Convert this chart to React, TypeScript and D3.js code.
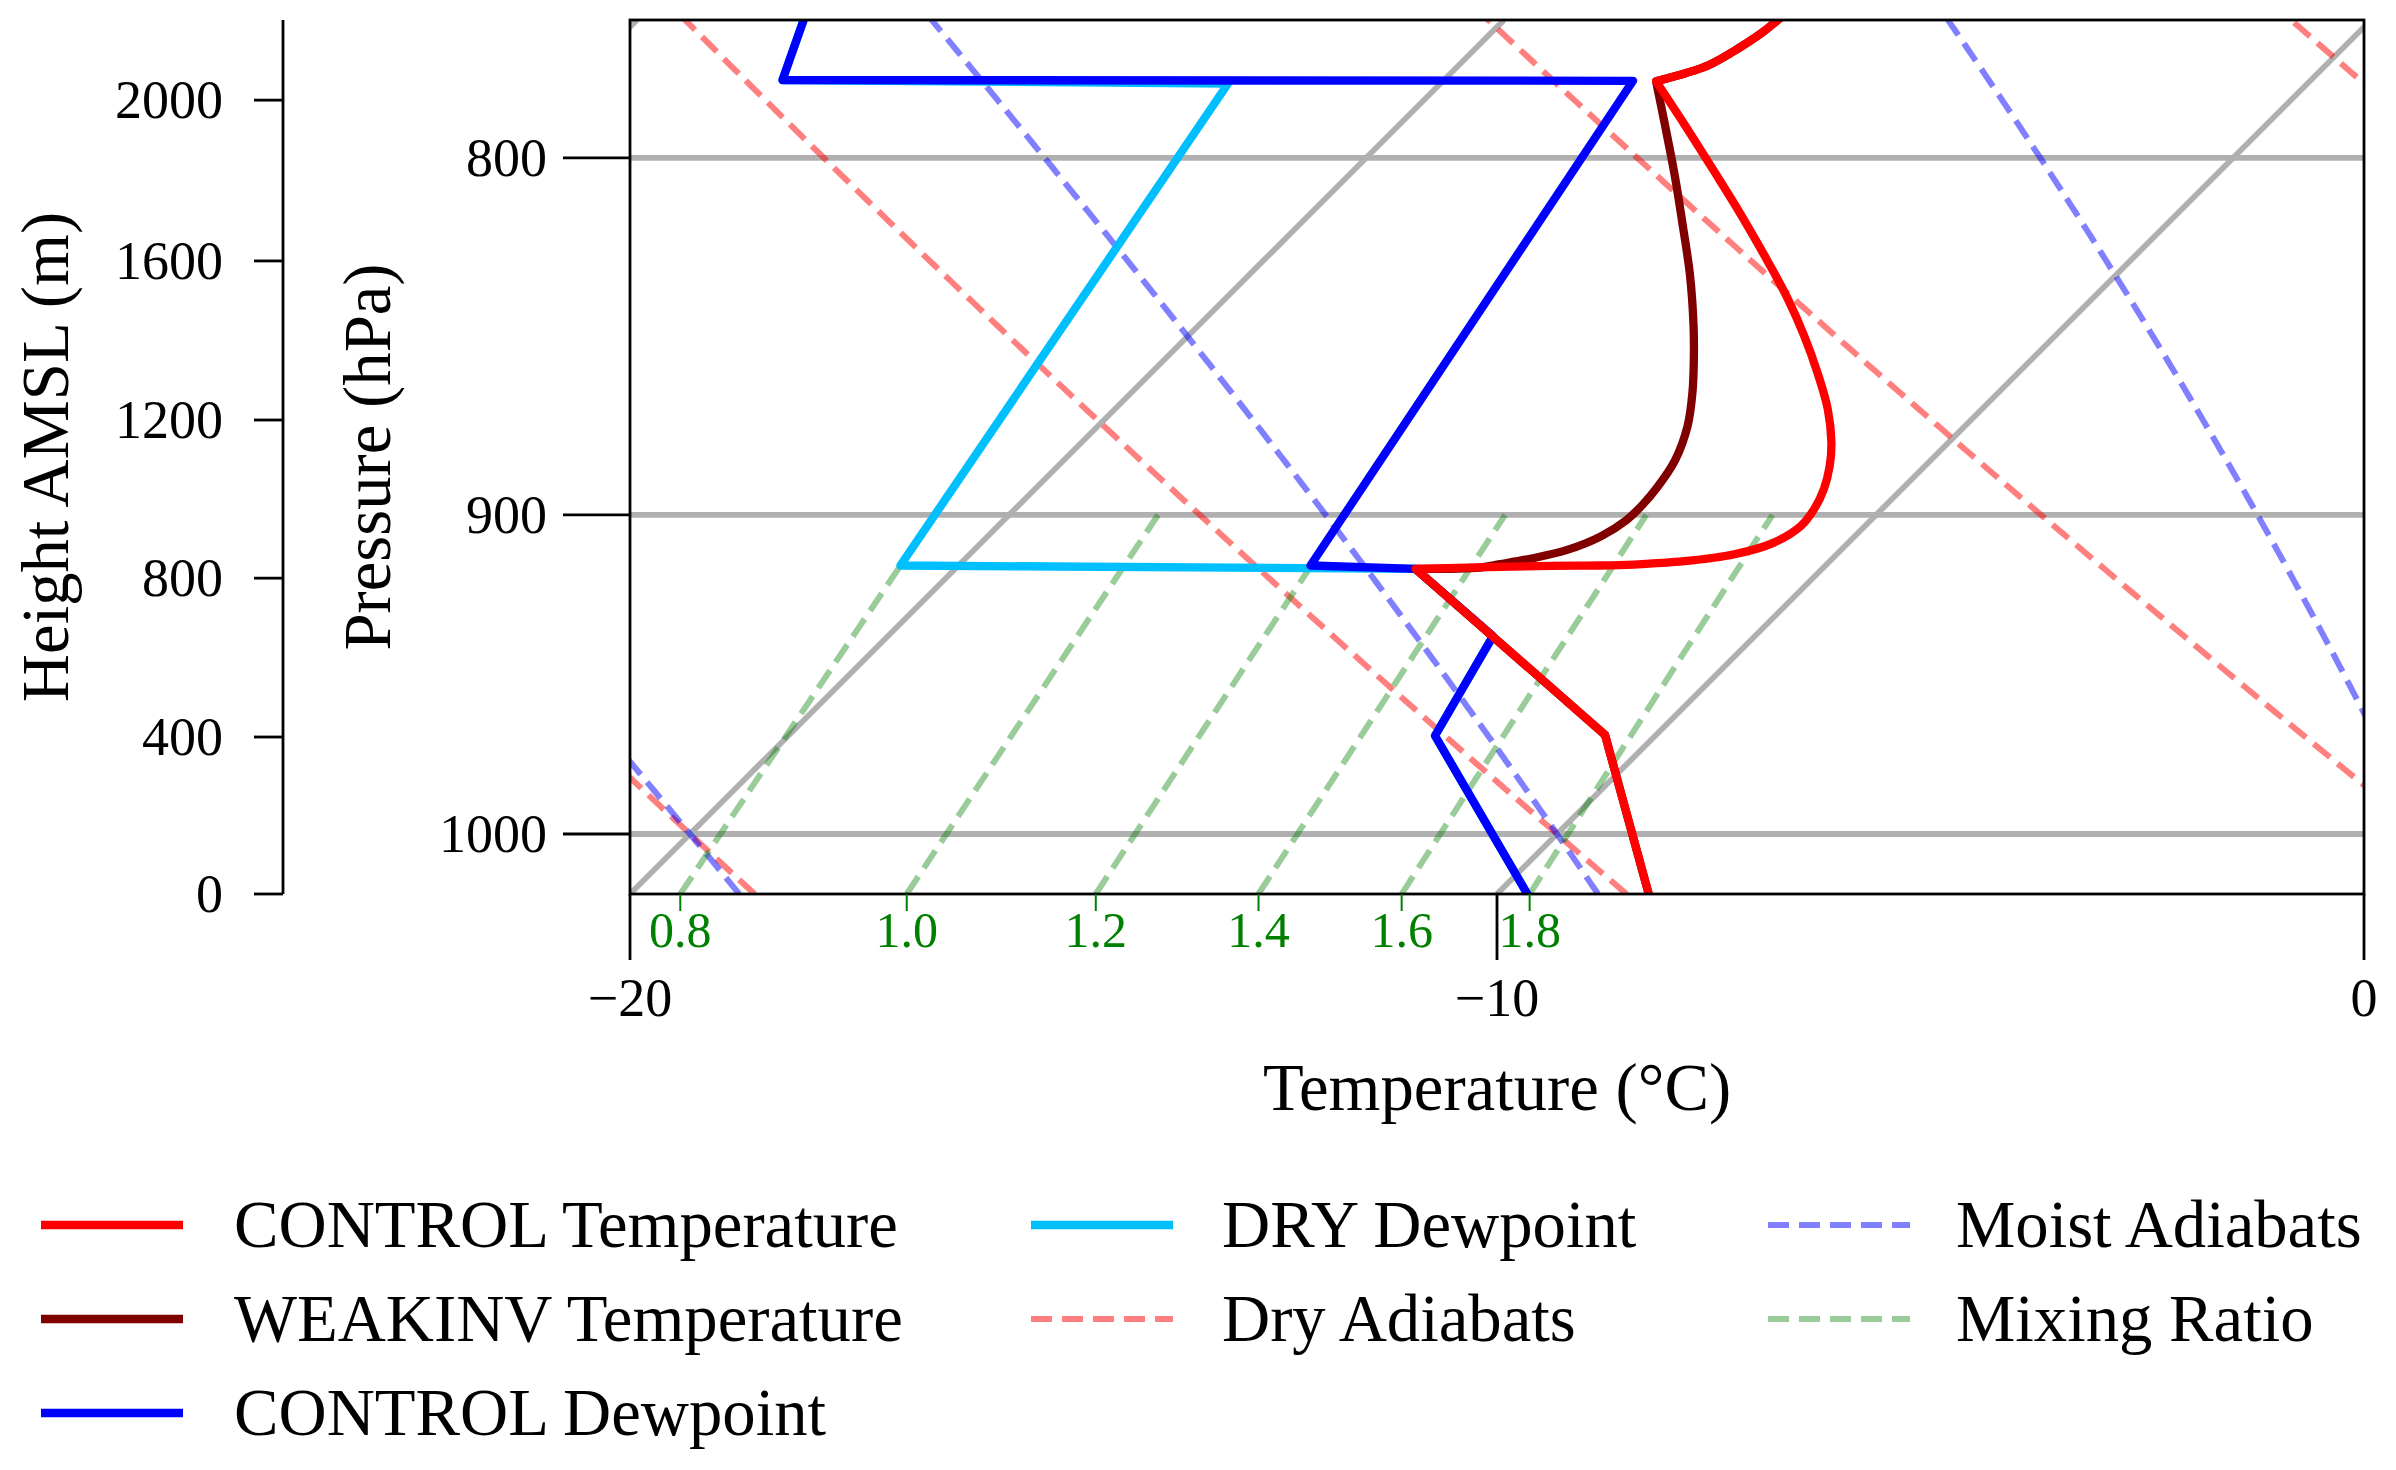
import React from 'react';
import * as d3 from 'd3';

// ---------------- axis limits & ticks ----------------
const T_MIN = -20;
const T_MAX = 0;
const P_BOTTOM = 1020;
const P_TOP = 764.4;

const temperatureTicks = [-20, -10, 0];
const pressureTicks = [800, 900, 1000];
const heightTicks = [0, 400, 800, 1200, 1600, 2000];
const isotherms = [-40, -30, -20, -10, 0, 10];
const dryAdiabatT0 = [-40, -30, -20, -10, 0, 10, 20, 30];
const moistAdiabatT0 = [-20, -10, 0];
const mixingRatios = [0.8, 1.0, 1.2, 1.4, 1.6, 1.8]; // g/kg
const mixingTopPressure = 900;

// ---------------- soundings (hPa, °C) ----------------
const controlTempP = [1020, 967.8, 916.2, 915.3, 915.2, 914.9, 913.9, 911.8, 908.3, 903.3, 898.4, 892.4, 885.6, 878.8, 869.1, 858.7, 848.3, 838.1, 828.0, 815.3, 803.7, 791.4, 780.0, 778.0, 775.9, 771.6, 767.8, 764.2, 762.0];
const controlTempT = [-8.25, -10.59, -14.69, -13.17, -12.60, -12.22, -11.68, -11.18, -10.86, -10.74, -10.78, -10.90, -11.10, -11.35, -11.78, -12.32, -12.90, -13.51, -14.16, -15.01, -15.82, -16.70, -17.54, -17.30, -17.12, -16.97, -16.88, -16.84, -16.83];

const weakinvTempP = [1020, 967.8, 916.2, 915.8, 914.8, 913.0, 910.5, 906.5, 901.6, 897.1, 892.1, 883.9, 874.0, 864.4, 854.9, 845.5, 831.6, 818.0, 804.6, 791.4, 780.0, 778.0, 775.9, 771.6, 767.8, 764.2, 762.0];
const weakinvTempT = [-8.25, -10.59, -14.69, -13.96, -13.77, -13.46, -13.16, -12.93, -12.82, -12.81, -12.84, -12.95, -13.20, -13.53, -13.90, -14.29, -14.91, -15.57, -16.24, -16.93, -17.54, -17.30, -17.12, -16.97, -16.88, -16.84, -16.83];

const temperatureKinks = [967.8, 916.2, 780.0];

const controlDewP = [1020, 968.1, 936.8, 916.2, 915.2, 779.9, 779.7, 764.0, 762.0];
const controlDewT = [-9.65, -12.54, -13.02, -14.69, -15.94, -17.81, -27.63, -28.09, -28.15];

const dryDewP = [1020, 968.1, 936.8, 916.2, 915.2, 780.6, 779.7, 764.0, 762.0];
const dryDewT = [-9.65, -12.54, -13.02, -14.69, -20.67, -22.45, -27.63, -28.09, -28.15];

const legendLabels = [
  'CONTROL Temperature',
  'WEAKINV Temperature',
  'CONTROL Dewpoint',
  'DRY Dewpoint',
  'Dry Adiabats',
  'Moist Adiabats',
  'Mixing Ratio',
];

// ---------------- physics ----------------
const RD = 287.04749;
const CP = 1004.6662;
const LV = 2.50084e6;
const EPS = 0.6219569;
const G = 9.80665;
const KAPPA = RD / CP;

function moistDTdp(p: number, TK: number) {
  const Tc = TK - 273.15;
  const es = 6.112 * Math.exp((17.67 * Tc) / (Tc + 243.5));
  const rs = (EPS * es) / (p - es);
  const num = RD * TK + LV * rs;
  const den = CP + (LV * LV * rs * EPS) / (RD * TK * TK);
  return num / den / p;
}
function rk4(p: number, T: number, h: number) {
  const k1 = moistDTdp(p, T);
  const k2 = moistDTdp(p + h / 2, T + (h / 2) * k1);
  const k3 = moistDTdp(p + h / 2, T + (h / 2) * k2);
  const k4 = moistDTdp(p + h, T + h * k3);
  return T + (h / 6) * (k1 + 2 * k2 + 2 * k3 + k4);
}
function moistAdiabat(t0: number): [number, number][] {
  const down: [number, number][] = [];
  let p = 1000;
  let T = t0 + 273.15;
  down.push([p, T]);
  while (p < P_BOTTOM - 1e-9) {
    const h = Math.min(1, P_BOTTOM - p);
    T = rk4(p, T, h);
    p += h;
    down.push([p, T]);
  }
  const up: [number, number][] = [];
  p = 1000;
  T = t0 + 273.15;
  while (p > P_TOP - 12) {
    T = rk4(p, T, -1);
    p -= 1;
    up.push([p, T]);
  }
  return [...down.reverse(), ...up].map(([pp, tk]) => [pp, tk - 273.15]);
}
function mixingDewpoint(p: number, wgkg: number) {
  const w = wgkg / 1000;
  const e = (p * w) / (EPS + w);
  const v = Math.log(e / 6.1078);
  return (237.3 * v) / (17.27 - v);
}

const PLOT = { left: 630, right: 2364, top: 20, bottom: 894 };
const FONT = 'Liberation Serif, Times New Roman, serif';

export default function App() {
  const x = d3.scaleLinear().domain([T_MIN, T_MAX]).range([PLOT.left, PLOT.right]);
  const y = d3.scaleLog().domain([P_BOTTOM, P_TOP]).range([PLOT.bottom, PLOT.top]);
  const skew = 1;
  const sx = (T: number, p: number) => x(T) + skew * (PLOT.bottom - y(p));

  const linePath = d3.line<[number, number]>().curve(d3.curveLinear);
  const toPts = (arr: [number, number][]) => arr.map(([p, T]) => [sx(T, p), y(p)] as [number, number]);

  const pGrid = d3.range(0, 121).map((i) => P_BOTTOM * Math.pow((P_TOP - 12) / P_BOTTOM, i / 120));

  const profileD = (ps: number[], ts: number[], kinks: number[], smooth: boolean) => {
    const pts = ps.map((p, i) => [sx(ts[i], p), y(p)] as [number, number]);
    const segs: [number, number][][] = [];
    let cur: [number, number][] = [pts[0]];
    for (let i = 1; i < pts.length; i++) {
      cur.push(pts[i]);
      if (i < pts.length - 1 && kinks.some((k) => Math.abs(k - ps[i]) < 1e-6)) {
        segs.push(cur);
        cur = [pts[i]];
      }
    }
    segs.push(cur);
    const gen = d3
      .line<[number, number]>()
      .curve(smooth ? d3.curveCatmullRom.alpha(0.5) : d3.curveLinear);
    return segs.map((s) => gen(s) ?? '').join('');
  };

  // height axis from hypsometric integration of CONTROL temperature
  const lnProf = controlTempP.map((p) => Math.log(p));
  const tAt = (lp: number) => {
    for (let i = 0; i < lnProf.length - 1; i++) {
      if (lp <= lnProf[i] && lp >= lnProf[i + 1]) {
        const f = (lnProf[i] - lp) / (lnProf[i] - lnProf[i + 1] || 1);
        return controlTempT[i] + f * (controlTempT[i + 1] - controlTempT[i]);
      }
    }
    return controlTempT[controlTempT.length - 1];
  };
  const N = 4000;
  const lp0 = Math.log(P_BOTTOM);
  const lp1 = Math.log(P_TOP);
  const zTab: number[] = [0];
  const lpTab: number[] = [lp0];
  for (let i = 1; i <= N; i++) {
    const a = lp0 + ((lp1 - lp0) * (i - 1)) / N;
    const b = lp0 + ((lp1 - lp0) * i) / N;
    const Tm = (tAt(a) + tAt(b)) / 2 + 273.15;
    zTab.push(zTab[i - 1] + (RD / G) * Tm * (a - b));
    lpTab.push(b);
  }
  const yForHeight = (h: number) => {
    for (let i = 0; i < N; i++) {
      if (h >= zTab[i] && h <= zTab[i + 1]) {
        const f = (h - zTab[i]) / (zTab[i + 1] - zTab[i]);
        return y(Math.exp(lpTab[i] + f * (lpTab[i + 1] - lpTab[i])));
      }
    }
    return PLOT.top;
  };

  const fmtT = (t: number) => (t < 0 ? '\u2212' + Math.abs(t) : String(t));

  const gridColor = '#b0b0b0';
  const gridW = 5.8;
  const dataW = 8.3;
  const dashW = 6;
  const dash = '21 10';

  const legendStyles = [
    { color: '#ff0000', dashed: false, op: 1, w: dataW },
    { color: '#800000', dashed: false, op: 1, w: dataW },
    { color: '#0000ff', dashed: false, op: 1, w: dataW },
    { color: '#00bfff', dashed: false, op: 1, w: dataW },
    { color: '#ff0000', dashed: true, op: 0.5, w: dashW },
    { color: '#0000ff', dashed: true, op: 0.5, w: dashW },
    { color: '#008000', dashed: true, op: 0.4, w: dashW },
  ];
  const legendCols = [
    { hx: 41, tx: 234 },
    { hx: 1031, tx: 1222 },
    { hx: 1768, tx: 1956 },
  ];
  const legendRows = [1225, 1319, 1413];
  const legendPos = [
    [0, 0], [0, 1], [0, 2], [1, 0], [1, 1], [2, 0], [2, 1],
  ];

  return (
    <svg
      width={2396}
      height={1470}
      viewBox="0 0 2396 1470"
      style={{ position: 'absolute', left: 0, top: 0, background: '#fff' }}
      fontFamily={FONT}
    >
      <defs>
        <clipPath id="plotClip">
          <rect x={PLOT.left} y={PLOT.top} width={PLOT.right - PLOT.left} height={PLOT.bottom - PLOT.top} />
        </clipPath>
      </defs>
      <rect x={0} y={0} width={2396} height={1470} fill="#fff" />

      <g clipPath="url(#plotClip)">
        {/* isobars */}
        {pressureTicks.map((p) => (
          <line key={'ib' + p} x1={PLOT.left} x2={PLOT.right} y1={y(p)} y2={y(p)} stroke={gridColor} strokeWidth={gridW} />
        ))}
        {/* isotherms */}
        {isotherms.map((t) => (
          <line
            key={'it' + t}
            x1={sx(t, P_BOTTOM)}
            y1={y(P_BOTTOM)}
            x2={sx(t, P_TOP)}
            y2={y(P_TOP)}
            stroke={gridColor}
            strokeWidth={gridW}
          />
        ))}
        {/* dry adiabats */}
        {dryAdiabatT0.map((t0) => {
          const pts = pGrid.map((p) => [p, (t0 + 273.15) * Math.pow(p / 1000, KAPPA) - 273.15] as [number, number]);
          return (
            <path key={'da' + t0} d={linePath(toPts(pts)) ?? ''} fill="none" stroke="#ff0000" strokeOpacity={0.5} strokeWidth={dashW} strokeDasharray={dash} />
          );
        })}
        {/* moist adiabats */}
        {moistAdiabatT0.map((t0) => (
          <path key={'ma' + t0} d={linePath(toPts(moistAdiabat(t0))) ?? ''} fill="none" stroke="#0000ff" strokeOpacity={0.5} strokeWidth={dashW} strokeDasharray={dash} />
        ))}
        {/* mixing ratio lines */}
        {mixingRatios.map((w) => {
          const ps = d3.range(0, 21).map((i) => P_BOTTOM + ((mixingTopPressure - P_BOTTOM) * i) / 20);
          const pts = ps.map((p) => [p, mixingDewpoint(p, w)] as [number, number]);
          return (
            <path key={'mr' + w} d={linePath(toPts(pts)) ?? ''} fill="none" stroke="#008000" strokeOpacity={0.4} strokeWidth={dashW} strokeDasharray={dash} />
          );
        })}

        {/* soundings */}
        <path d={profileD(dryDewP, dryDewT, [], false)} fill="none" stroke="#00bfff" strokeWidth={dataW} strokeLinejoin="round" strokeLinecap="round" />
        <path d={profileD(controlDewP, controlDewT, [], false)} fill="none" stroke="#0000ff" strokeWidth={dataW} strokeLinejoin="round" strokeLinecap="round" />
        <path d={profileD(weakinvTempP, weakinvTempT, temperatureKinks, true)} fill="none" stroke="#800000" strokeWidth={dataW} strokeLinejoin="round" strokeLinecap="round" />
        <path d={profileD(controlTempP, controlTempT, temperatureKinks, true)} fill="none" stroke="#ff0000" strokeWidth={dataW} strokeLinejoin="round" strokeLinecap="round" />
      </g>

      {/* plot frame */}
      <rect x={PLOT.left} y={PLOT.top} width={PLOT.right - PLOT.left} height={PLOT.bottom - PLOT.top} fill="none" stroke="#000" strokeWidth={2.8} />

      {/* temperature axis */}
      {temperatureTicks.map((t) => (
        <g key={'tt' + t}>
          <line x1={x(t)} x2={x(t)} y1={PLOT.bottom} y2={PLOT.bottom + 66} stroke="#000" strokeWidth={2.8} />
          <text x={x(t)} y={1016} fontSize={54} textAnchor="middle" fill="#000">
            {fmtT(t)}
          </text>
        </g>
      ))}
      <text x={(PLOT.left + PLOT.right) / 2} y={1110} fontSize={66.7} textAnchor="middle" fill="#000">
        Temperature (°C)
      </text>

      {/* mixing ratio labels */}
      {mixingRatios.map((w) => {
        const mx = sx(mixingDewpoint(P_BOTTOM, w), P_BOTTOM);
        return (
          <g key={'ml' + w}>
            <line x1={mx} x2={mx} y1={PLOT.bottom} y2={PLOT.bottom + 17} stroke="#008000" strokeWidth={2} />
            <text x={mx} y={947} fontSize={50} textAnchor="middle" fill="#008000">
              {w.toFixed(1)}
            </text>
          </g>
        );
      })}

      {/* pressure axis */}
      {pressureTicks.map((p) => (
        <g key={'pt' + p}>
          <line x1={PLOT.left - 67} x2={PLOT.left} y1={y(p)} y2={y(p)} stroke="#000" strokeWidth={2.8} />
          <text x={547} y={y(p) + 18} fontSize={54} textAnchor="end" fill="#000">
            {p}
          </text>
        </g>
      ))}
      <text transform={`translate(390, ${(PLOT.top + PLOT.bottom) / 2}) rotate(-90)`} fontSize={66.7} textAnchor="middle" fill="#000">
        Pressure (hPa)
      </text>

      {/* height axis */}
      <line x1={283} x2={283} y1={PLOT.top} y2={PLOT.bottom} stroke="#000" strokeWidth={2.8} />
      {heightTicks.map((h) => {
        const hy = yForHeight(h);
        return (
          <g key={'ht' + h}>
            <line x1={254} x2={283} y1={hy} y2={hy} stroke="#000" strokeWidth={2.8} />
            <text x={223} y={hy + 18} fontSize={54} textAnchor="end" fill="#000">
              {h}
            </text>
          </g>
        );
      })}
      <text transform={`translate(68, ${(PLOT.top + PLOT.bottom) / 2}) rotate(-90)`} fontSize={66.7} textAnchor="middle" fill="#000">
        Height AMSL (m)
      </text>

      {/* legend */}
      {legendLabels.map((lab, i) => {
        const [c, r] = legendPos[i];
        const st = legendStyles[i];
        const ly = legendRows[r];
        const col = legendCols[c];
        return (
          <g key={'lg' + i}>
            <line
              x1={col.hx}
              x2={col.hx + 142}
              y1={ly}
              y2={ly}
              stroke={st.color}
              strokeOpacity={st.op}
              strokeWidth={st.w}
              strokeDasharray={st.dashed ? dash : undefined}
            />
            <text x={col.tx} y={ly + 22} fontSize={66.7} fill="#000">
              {lab}
            </text>
          </g>
        );
      })}
    </svg>
  );
}
